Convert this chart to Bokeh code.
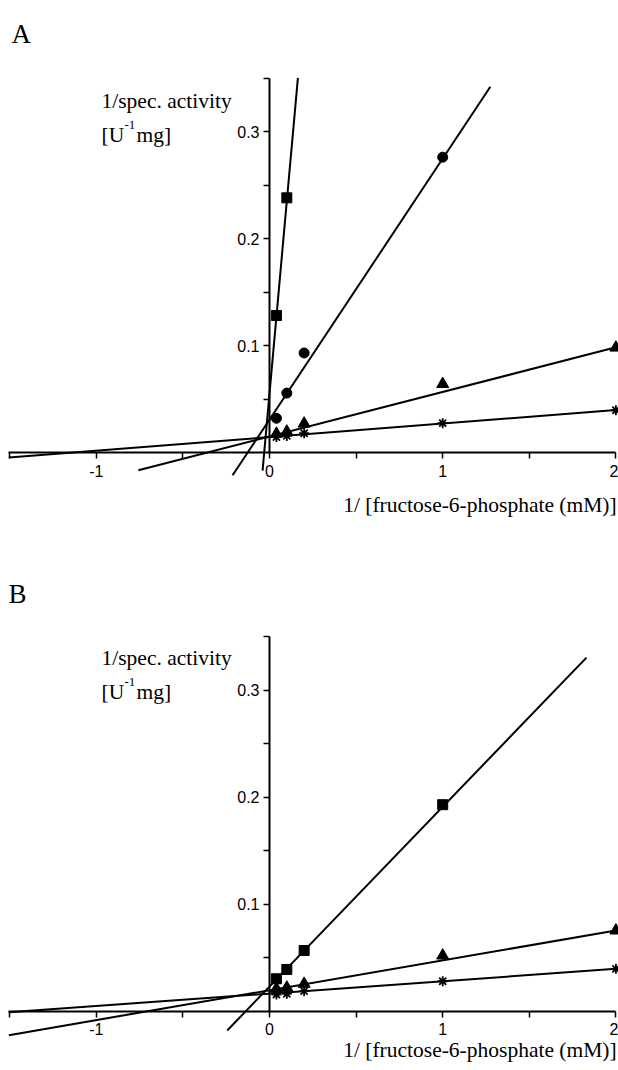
from bokeh.plotting import figure
from bokeh.models import FixedTicker, Label, Range1d
from bokeh.layouts import column
from bokeh.embed import file_html
from bokeh.resources import INLINE
import numpy as np

# ---------------- data ----------------
# 1/[fructose-6-phosphate (mM)]
conc = [0.04, 0.1, 0.2, 1, 2]

# Panel A
a_square_x = [0.04, 0.1]
a_square_y = [0.128, 0.238]
a_circle_x = [0.04, 0.1, 0.2, 1]
a_circle_y = [0.032, 0.0555, 0.093, 0.276]
a_triangle_x = conc
a_triangle_y = [0.0175, 0.0195, 0.027, 0.064, 0.098]
a_star_x = conc
a_star_y = [0.0145, 0.0155, 0.018, 0.0274, 0.0395]
# fitted lines (square, circle, triangle, asterisk)
a_fit_slope = [1.8, 0.244, 0.0417, 0.01267]
a_fit_intercept = [0.055, 0.0307, 0.0149, 0.0144]
a_fit_xmin = [-0.04, -0.213, -0.757, -1.505]
a_fit_xmax = [0.164, 1.275, 2.0, 2.0]

# Panel B
b_square_x = [0.04, 0.1, 0.2, 1]
b_square_y = [0.0303, 0.039, 0.0567, 0.193]
b_triangle_x = conc
b_triangle_y = [0.021, 0.022, 0.0256, 0.052, 0.0754]
b_star_x = conc
b_star_y = [0.0156, 0.0162, 0.0187, 0.028, 0.0396]
# fitted lines (square, triangle, asterisk)
b_fit_slope = [0.168, 0.0279, 0.0116]
b_fit_intercept = [0.023, 0.0196, 0.0164]
b_fit_xmin = [-0.244, -1.505, -1.505]
b_fit_xmax = [1.83, 2.0, 2.0]

x_ticks = [-1.5, -1, -0.5, 0, 0.5, 1, 1.5, 2]
x_tick_labels = ["", "-1", "", "0", "", "1", "", "2"]
y_ticks = [0.05, 0.1, 0.15, 0.2, 0.25, 0.3, 0.35]
y_tick_labels = ["", "0.1", "", "0.2", "", "0.3", ""]

x_title = "1/ [fructose-6-phosphate (mM)]"
y_title_1 = "1/spec. activity"

# ---------------- layout constants ----------------
W = 618
SX = 173.2          # px per x unit
SY = 1070.0         # px per y unit
X0 = 269            # px of x = 0 inside figure
SERIF = "Liberation Serif"
SANS = "Liberation Sans"


def make_panel(letter, top, height, y0_px, markers, fits, title_base,
               letter_left, letter_base, ytitle_base):
    x_start = -X0 / SX
    x_end = (W - X0) / SX
    y_end = y0_px / SY
    y_start = -(height - y0_px) / SY
    p = figure(width=W, height=height, output_backend="svg",
               toolbar_location=None,
               x_range=Range1d(x_start, x_end), y_range=Range1d(y_start, y_end),
               min_border=0, min_border_left=0, min_border_right=0,
               min_border_top=0, min_border_bottom=0)
    p.outline_line_color = None
    p.grid.visible = False
    p.background_fill_color = "white"
    p.border_fill_color = "white"

    for ax in (p.xaxis[0], p.yaxis[0]):
        ax.fixed_location = 0
        ax.axis_line_width = 2
        ax.axis_line_color = "black"
        ax.major_tick_line_width = 1.5
        ax.major_tick_line_color = "black"
        ax.major_tick_out = 6
        ax.major_tick_in = 0
        ax.minor_tick_line_color = None
        ax.major_label_text_font = SANS
        ax.major_label_text_font_size = "16px"
        ax.major_label_text_color = "black"
    p.xaxis.ticker = FixedTicker(ticks=x_ticks)
    p.xaxis.major_label_overrides = {t: l for t, l in zip(x_ticks, x_tick_labels)}
    p.xaxis.bounds = (-1.505, 2.0)
    p.xaxis.major_label_standoff = 6
    p.yaxis.ticker = FixedTicker(ticks=y_ticks)
    p.yaxis.major_label_overrides = {t: l for t, l in zip(y_ticks, y_tick_labels)}
    p.yaxis.bounds = (0, 0.35)
    p.yaxis.major_label_standoff = 4

    # fitted lines
    slopes, inters, xmins, xmaxs = fits
    for s, b, x1, x2 in zip(slopes, inters, xmins, xmaxs):
        xs = np.array([x1, x2])
        p.line(xs, b + s * xs, line_color="black", line_width=2)

    # markers
    for kind, xs, ys in markers:
        if kind == "square":
            p.scatter(xs, ys, marker="square", size=10, fill_color="black", line_color="black")
        elif kind == "circle":
            p.scatter(xs, ys, marker="circle", size=10, fill_color="black", line_color="black")
        elif kind == "triangle":
            p.scatter(xs, ys, marker="triangle", size=12, fill_color="black", line_color="black")
        else:
            p.scatter(xs, ys, marker="asterisk", size=10, line_color="black", line_width=1.8)

    # page pixel -> data helpers
    def dx(px):
        return (px - X0) / SX

    def dy(py):
        return (y0_px - (py - top)) / SY

    # panel letter
    p.add_layout(Label(x=dx(letter_left), y=dy(letter_base), text=letter,
                       text_font=SERIF, text_font_size="27px", text_color="black",
                       text_baseline="alphabetic"))
    # y title
    p.add_layout(Label(x=dx(101), y=dy(ytitle_base), text=y_title_1,
                       text_font=SERIF, text_font_size="21.5px", text_color="black",
                       text_baseline="alphabetic"))
    p.add_layout(Label(x=dx(101), y=dy(ytitle_base + 34), text="[U",
                       text_font=SERIF, text_font_size="21.5px", text_color="black",
                       text_baseline="alphabetic"))
    p.add_layout(Label(x=dx(124), y=dy(ytitle_base + 24), text="-1",
                       text_font=SERIF, text_font_size="13px", text_color="black",
                       text_baseline="alphabetic"))
    p.add_layout(Label(x=dx(136), y=dy(ytitle_base + 34), text="mg]",
                       text_font=SERIF, text_font_size="21.5px", text_color="black",
                       text_baseline="alphabetic"))
    # x title
    p.add_layout(Label(x=dx(342.7), y=dy(title_base), text=x_title,
                       text_font=SERIF, text_font_size="21.5px", text_color="black",
                       text_baseline="alphabetic"))
    return p


# Panel A: page top 0, height 558, x-axis at page y 452
pa = make_panel("A", 0, 558, 452,
                [("square", a_square_x, a_square_y),
                 ("circle", a_circle_x, a_circle_y),
                 ("triangle", a_triangle_x, a_triangle_y),
                 ("asterisk", a_star_x, a_star_y)],
                (a_fit_slope, a_fit_intercept, a_fit_xmin, a_fit_xmax),
                title_base=504, letter_left=11, letter_base=33,
                ytitle_base=100)

# Panel B: page top 558, height 512, x-axis at page y 1010.7
pb = make_panel("B", 558, 512, 1010.7 - 558,
                [("square", b_square_x, b_square_y),
                 ("triangle", b_triangle_x, b_triangle_y),
                 ("asterisk", b_star_x, b_star_y)],
                (b_fit_slope, b_fit_intercept, b_fit_xmin, b_fit_xmax),
                title_base=1049, letter_left=8, letter_base=593,
                ytitle_base=657)

layout = column(pa, pb, spacing=0)
open("out.html", "w").write(file_html(layout, INLINE))
